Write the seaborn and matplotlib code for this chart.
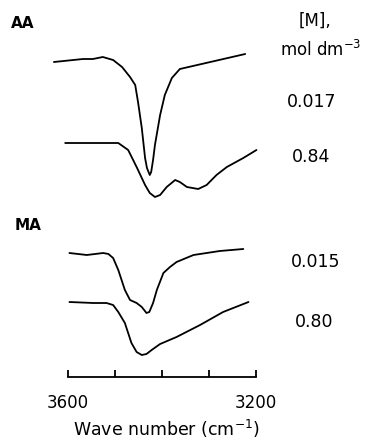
import matplotlib
matplotlib.use('Agg')
import matplotlib.pyplot as plt
import seaborn as sns
import pandas as pd

# IR spectra (O-H stretch region), transmittance in arbitrary units, stacked as drawn
aa_017_wn = [3630, 3568, 3547, 3526, 3504, 3485, 3468, 3457, 3451, 3443, 3436, 3432,
             3426, 3423, 3419, 3415, 3404, 3394, 3379, 3362, 3223]
aa_017_t = [33.8, 34.1, 34.1, 34.3, 34.0, 33.3, 32.3, 31.5, 29.8, 27.2, 24.2, 23.2,
            22.5, 22.8, 24.0, 25.5, 28.5, 30.5, 32.2, 33.1, 34.6]

aa_084_wn = [3606, 3532, 3493, 3472, 3454, 3436, 3426, 3415, 3404, 3390, 3372, 3362,
             3347, 3323, 3305, 3284, 3262, 3227, 3199]
aa_084_t = [25.7, 25.7, 25.7, 25.0, 23.3, 21.5, 20.7, 20.3, 20.5, 21.3, 22.0, 21.8,
            21.3, 21.1, 21.5, 22.5, 23.3, 24.2, 25.0]

ma_015_wn = [3597, 3560, 3525, 3514, 3504, 3493, 3479, 3468, 3454, 3443, 3433, 3427,
             3419, 3411, 3397, 3383, 3369, 3333, 3277, 3227]
ma_015_t = [14.7, 14.5, 14.7, 14.6, 14.2, 13.0, 11.0, 10.0, 9.7, 9.3, 8.7, 8.8,
            9.7, 11.0, 12.7, 13.3, 13.8, 14.5, 14.9, 15.1]

ma_080_wn = [3597, 3546, 3518, 3504, 3493, 3479, 3465, 3454, 3443, 3433, 3422, 3404,
             3369, 3319, 3270, 3216]
ma_080_t = [9.8, 9.7, 9.7, 9.5, 8.8, 7.7, 5.7, 4.8, 4.5, 4.6, 5.0, 5.6,
            6.3, 7.5, 8.8, 9.8]

conc_labels = ['0.017', '0.84', '0.015', '0.80']
tick_values = [3600, 3500, 3400, 3300, 3200]
tick_labels = ['3600', '', '', '', '3200']

frames = []
for lab, wn, t in zip(conc_labels,
                      [aa_017_wn, aa_084_wn, ma_015_wn, ma_080_wn],
                      [aa_017_t, aa_084_t, ma_015_t, ma_080_t]):
    frames.append(pd.DataFrame({'wn': wn, 't': t, 'sample': lab}))
df = pd.concat(frames, ignore_index=True)

sns.set_style('white')
plt.rcParams['font.family'] = ['DejaVu Sans']
plt.rcParams['text.color'] = 'black'
plt.rcParams['axes.labelcolor'] = 'black'
plt.rcParams['xtick.color'] = 'black'

fig = plt.figure(figsize=(3.66, 4.42), dpi=100)
ax = fig.add_axes([0, 0, 1, 1])

sns.lineplot(data=df, x='wn', y='t', hue='sample', palette=['black'] * 4,
             linewidth=1.3, legend=False, sort=False, estimator=None, ax=ax)

ax.set_xlim(3744.7, 2965.9)
ax.set_ylim(-4.2, 40)

for side in ['top', 'right', 'left']:
    ax.spines[side].set_visible(False)
ax.spines['bottom'].set_position(('data', 2.3))
ax.spines['bottom'].set_bounds(3600, 3200)
ax.spines['bottom'].set_linewidth(1.3)
ax.spines['bottom'].set_color('black')
ax.set_yticks([])
ax.set_xticks(tick_values)
ax.set_xticklabels(tick_labels, fontsize=12)
ax.tick_params(axis='x', bottom=True, direction='in', length=5, width=1.3, pad=12,
               colors='black')
ax.set_ylabel('')
ax.set_xlabel('Wave number (cm$^{-1}$)', fontsize=12.5, color='black')
ax.xaxis.set_label_coords(166 / 366, (442 - 429) / 442)
ax.xaxis.label.set_va('center')

W, H = 366, 442
def ftext(x, y, s, **kw):
    fig.text(x / W, 1 - y / H, s, ha='center', va='center', color='black', **kw)

ftext(23, 23, 'AA', fontsize=11, fontweight='bold')
ftext(28, 225, 'MA', fontsize=11, fontweight='bold')
ftext(315, 21, '[M],', fontsize=12)
ftext(321, 50, 'mol dm$^{-3}$', fontsize=12)
for lab, (x, y) in zip(conc_labels, [(312, 102), (311, 157), (316, 262), (314, 322)]):
    ftext(x, y, lab, fontsize=12.5)

fig.savefig('out.png', dpi=100)
